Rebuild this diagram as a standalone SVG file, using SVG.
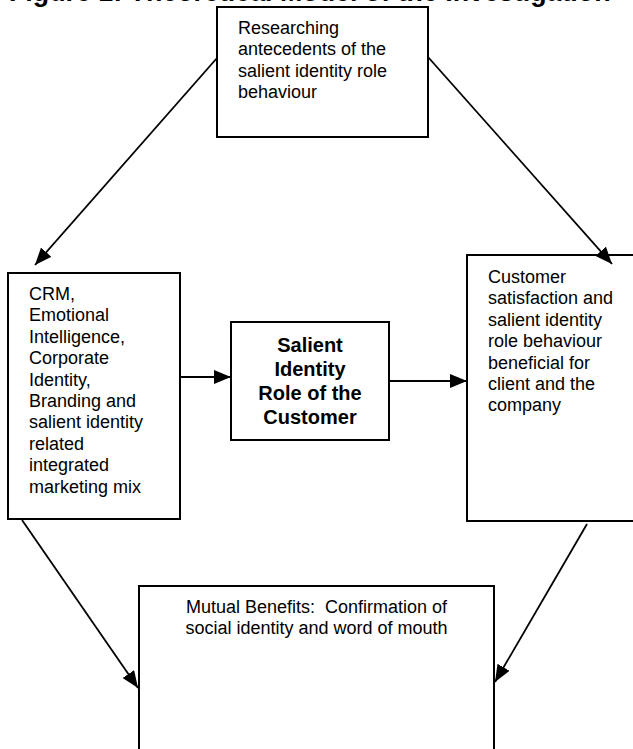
<svg xmlns="http://www.w3.org/2000/svg" width="633" height="749" viewBox="0 0 633 749">
<style>
.box{fill:#fff;stroke:#000;stroke-width:2}
.t{font-family:"Liberation Sans",Arial,sans-serif;font-size:18px;fill:#000}
.b{font-family:"Liberation Sans",Arial,sans-serif;font-size:20px;font-weight:bold;fill:#000}
.c{fill:none;stroke:#000;stroke-width:1.8}
</style>
<defs>
<marker id="ah" viewBox="0 0 17 14" refX="17" refY="7" markerWidth="17" markerHeight="14" markerUnits="userSpaceOnUse" orient="auto">
<path d="M0,0 L17,7 L0,14 z" fill="#000"/>
</marker>
</defs>
<rect width="633" height="749" fill="#fff"/>
<text class="b" x="9" y="1" style="font-size:26.8px">Figure 1: Theoretical Model of the Investigation</text>
<g id="n-top">
<rect class="box" x="217" y="7" width="211" height="130"/>
<text class="t" x="238" y="34">Researching</text>
<text class="t" x="238" y="55.4">antecedents of the</text>
<text class="t" x="238" y="76.8">salient identity role</text>
<text class="t" x="238" y="98.2">behaviour</text>
</g>
<g id="n-left">
<rect class="box" x="8" y="273" width="172" height="246"/>
<text class="t" x="29" y="300">CRM,</text>
<text class="t" x="29" y="321.4">Emotional</text>
<text class="t" x="29" y="342.8">Intelligence,</text>
<text class="t" x="29" y="364.2">Corporate</text>
<text class="t" x="29" y="385.6">Identity,</text>
<text class="t" x="29" y="407">Branding and</text>
<text class="t" x="29" y="428.4">salient identity</text>
<text class="t" x="29" y="449.8">related</text>
<text class="t" x="29" y="471.2">integrated</text>
<text class="t" x="29" y="492.6">marketing mix</text>
</g>
<g id="n-center">
<rect class="box" x="231" y="322" width="158" height="118"/>
<text class="b" x="310" y="352" text-anchor="middle">Salient</text>
<text class="b" x="310" y="376" text-anchor="middle">Identity</text>
<text class="b" x="310" y="400" text-anchor="middle">Role of the</text>
<text class="b" x="310" y="424" text-anchor="middle">Customer</text>
</g>
<g id="n-right">
<rect class="box" x="467" y="255" width="180" height="266"/>
<text class="t" x="488" y="283">Customer</text>
<text class="t" x="488" y="304.4">satisfaction and</text>
<text class="t" x="488" y="325.8">salient identity</text>
<text class="t" x="488" y="347.2">role behaviour</text>
<text class="t" x="488" y="368.6">beneficial for</text>
<text class="t" x="488" y="390">client and the</text>
<text class="t" x="488" y="411.4">company</text>
</g>
<g id="n-bottom">
<rect class="box" x="139" y="586" width="355" height="180"/>
<text class="t" x="316.5" y="613" text-anchor="middle" xml:space="preserve">Mutual Benefits:  Confirmation of</text>
<text class="t" x="316.5" y="634" text-anchor="middle">social identity and word of mouth</text>
</g>
<g id="connectors">
<line class="c" x1="217" y1="58" x2="35" y2="265" marker-end="url(#ah)"/>
<line class="c" x1="428" y1="57" x2="612" y2="264" marker-end="url(#ah)"/>
<line class="c" x1="180" y1="377" x2="231" y2="377" marker-end="url(#ah)"/>
<line class="c" x1="389" y1="381" x2="467" y2="381" marker-end="url(#ah)"/>
<line class="c" x1="22" y1="520" x2="138" y2="688" marker-end="url(#ah)"/>
<line class="c" x1="587" y1="524" x2="495" y2="682" marker-end="url(#ah)"/>
</g>
</svg>
